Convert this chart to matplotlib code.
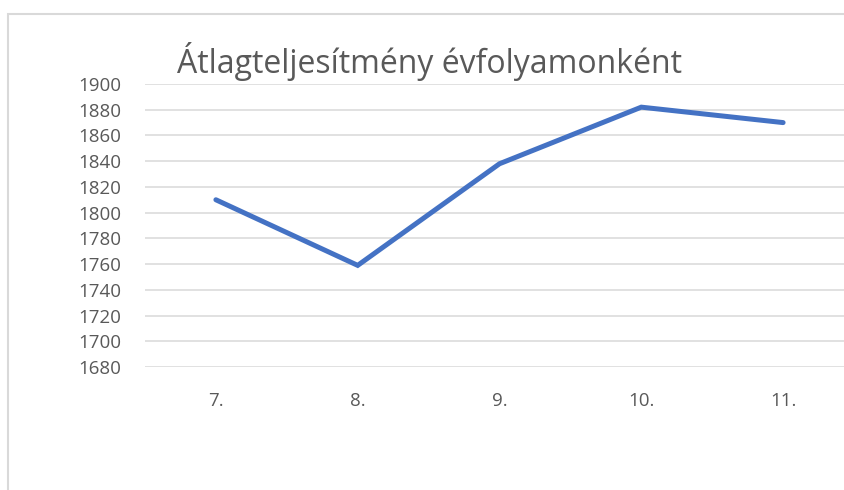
import matplotlib
matplotlib.use("Agg")
import matplotlib.pyplot as plt
from matplotlib import font_manager
from matplotlib.patches import Rectangle

categories = ["7.", "8.", "9.", "10.", "11."]
values = [1810, 1759, 1838, 1882, 1870]
y_ticks = list(range(1680, 1901, 20))
title = "Átlagteljesítmény évfolyamonként"

available = {f.name for f in font_manager.fontManager.ttflist}
family = "DejaVu Sans"
for cand in ["Liberation Sans Narrow", "Open Sans", "Liberation Sans"]:
    if cand in available:
        family = cand
        break
plt.rcParams['font.family'] = [family, 'DejaVu Sans']

W, H = 845, 490
fig = plt.figure(figsize=(W / 100, H / 100), dpi=100)
fig.patch.set_facecolor("white")

# chart border
fig.patches.append(Rectangle((8 / W, -0.1), 1.2, (H - 14) / H + 0.1, transform=fig.transFigure,
                             fill=False, edgecolor="#D9D9D9", linewidth=1.5, zorder=0))

left, right = 145, 854
top, bottom = 84, 367
ax = fig.add_axes([left / W, (H - bottom) / H, (right - left) / W, (bottom - top) / H])
x = list(range(len(categories)))
ax.plot(x, values, color="#4472C4", linewidth=3.6, solid_capstyle="round", solid_joinstyle="miter", zorder=3, clip_on=False)
ax.set_xlim(-0.5, len(categories) - 0.5)
ax.set_ylim(y_ticks[0], y_ticks[-1])
ax.set_yticks(y_ticks)
ax.set_xticks(x)
ax.set_xticklabels(categories)
ax.grid(axis="y", color="#D9D9D9", linewidth=1.1)
ax.set_axisbelow(True)
for s in ax.spines.values():
    s.set_visible(False)
ax.tick_params(axis="both", length=0, colors="#595959", labelsize=13.5)
ax.tick_params(axis="y", pad=17)
ax.tick_params(axis="x", pad=18)

fig.text(177 / W, (H - 61) / H, title, fontsize=23, color="#595959", ha="left", va="center")

fig.savefig("out.png", dpi=100)
